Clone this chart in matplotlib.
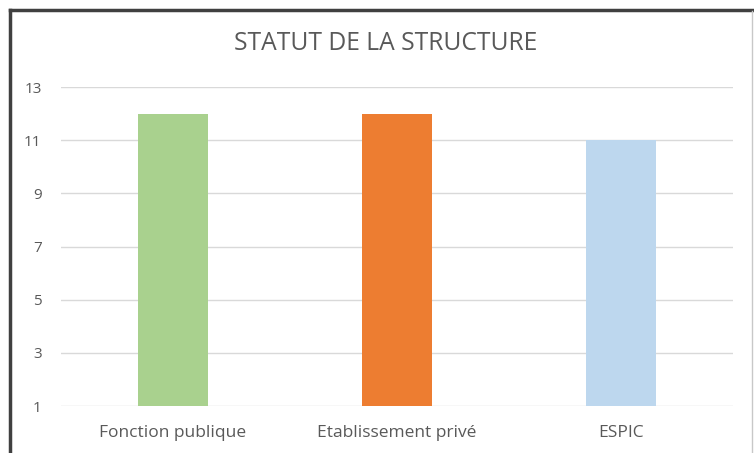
import matplotlib
matplotlib.use("Agg")
import matplotlib.pyplot as plt
from matplotlib.lines import Line2D

# données
categories = ["Fonction publique", "Etablissement privé", "ESPIC"]
valeurs = [12, 12, 11]
couleurs = ["#A9D18E", "#ED7D31", "#BDD7EE"]
yticks = [1, 3, 5, 7, 9, 11, 13]

plt.rcParams["font.family"] = ["Open Sans", "DejaVu Sans"]

fig = plt.figure(figsize=(7.54, 4.53), dpi=100)
ax = fig.add_axes([61 / 754, 1 - 406 / 453, 672 / 754, 319 / 453])

base = yticks[0]
ax.bar(range(len(categories)), [v - base for v in valeurs], bottom=base,
       width=0.3125, color=couleurs, zorder=3)

ax.set_xlim(-0.5, len(categories) - 0.5)
ax.set_ylim(yticks[0], yticks[-1])
ax.set_yticks(yticks)
ax.set_xticks(range(len(categories)))
ax.set_xticklabels(categories, fontsize=12.5, color="#595959")
ax.tick_params(axis="y", labelsize=11, labelcolor="#595959", length=0, pad=14)
ax.tick_params(axis="x", length=0, pad=14)
ax.grid(axis="y", color="#D9D9D9", linewidth=1, zorder=0)
for s in ax.spines.values():
    s.set_visible(False)

fig.text(386 / 754, 1 - 44 / 453, "STATUT DE LA STRUCTURE", ha="center",
         va="center", fontsize=17.7, color="#595959")

# cadre
fig.add_artist(Line2D([10 / 754, 10 / 754], [0, 1 - 10 / 453],
                      color="#404040", linewidth=2.5))
fig.add_artist(Line2D([10 / 754, 1], [1 - 10 / 453, 1 - 10 / 453],
                      color="#404040", linewidth=2.5))
fig.add_artist(Line2D([752 / 754, 752 / 754], [0, 1 - 11 / 453],
                      color="#C8C8C8", linewidth=1))

fig.savefig("out.png", dpi=100)
